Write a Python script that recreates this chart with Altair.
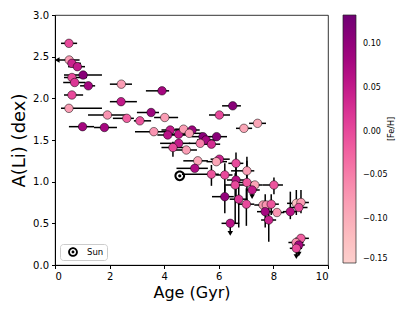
import altair as alt
import pandas as pd

# ---- data ----
age = [0.51, 0.52, 0.62, 0.82, 1.03, 0.62, 0.72, 1.22, 2.43, 0.62,
       2.42, 3.92, 0.51, 3.52, 1.92, 2.63, 3.11, 4.02, 1.01, 1.81,
       3.62, 4.22, 4.13, 4.53, 4.71, 5.02, 4.92, 5.42, 5.53, 5.92,
       5.32, 5.73, 4.53, 4.32, 4.81, 6.51, 6.02, 7.42, 6.92, 5.23,
       6.02, 5.91, 5.12, 5.73, 6.22, 6.63, 7.03, 6.63, 6.60, 7.03,
       7.32, 7.22, 8.02, 6.22, 6.73, 7.01, 7.62, 7.74, 7.92, 7.70,
       7.83, 8.13, 8.62, 8.84, 9.01, 8.93, 6.42, 9.01, 8.83, 8.93, 8.84]
ali = [2.66, 2.46, 2.42, 2.38, 2.28, 2.25, 2.19, 2.15, 2.17, 2.04,
       1.96, 2.09, 1.88, 1.83, 1.80, 1.76, 1.73, 1.77, 1.66, 1.65,
       1.60, 1.62, 1.56, 1.57, 1.63, 1.62, 1.58, 1.54, 1.50, 1.54,
       1.46, 1.45, 1.46, 1.41, 1.38, 1.91, 1.80, 1.70, 1.64, 1.25,
       1.27, 1.24, 1.16, 1.09, 1.08, 1.22, 1.13, 1.02, 0.96, 0.99,
       0.96, 0.90, 0.96, 0.82, 0.79, 0.73, 0.72, 0.72, 0.73, 0.64,
       0.54, 0.63, 0.64, 0.74, 0.75, 0.69, 0.50, 0.32, 0.27, 0.24, 0.20]
feh = [0.00, -0.08, 0.04, 0.05, 0.11, 0.00, 0.02, 0.08, -0.08, 0.00,
       0.05, 0.08, -0.08, 0.09, -0.07, -0.02, -0.01, -0.08, 0.08, 0.08,
       -0.07, 0.05, 0.06, 0.05, -0.08, 0.09, -0.08, 0.11, 0.08, 0.11,
       -0.05, 0.03, 0.05, 0.00, -0.08, 0.11, 0.00, -0.09, -0.09, -0.09,
       0.04, -0.09, 0.07, -0.01, 0.00, 0.00, -0.08, 0.06, 0.00, -0.01,
       -0.09, 0.05, -0.01, 0.10, 0.02, 0.00, -0.08, -0.07, -0.01, 0.08,
       0.04, -0.07, 0.06, -0.12, -0.08, 0.00, 0.06, -0.02, -0.06, 0.08, 0.00]
age_lo = [0.22, 0.08, 0.45, 0.48, 0.33, 0.33, 0.30, 0.92, 2.01, 0.33,
          2.01, 3.33, 0.22, 3.00, 1.21, 2.12, 2.89, 3.63, 0.51, 1.43,
          2.93, 3.90, 3.75, 4.20, 4.40, 4.75, 4.60, 5.00, 5.20, 5.68,
          4.90, 5.45, 3.85, 3.90, 4.40, 6.12, 5.64, 7.11, 6.63, 4.70,
          5.70, 5.55, 4.45, 4.65, 5.90, 6.35, 6.45, 6.30, 6.20, 6.60,
          7.00, 7.00, 7.60, 5.75, 6.40, 6.70, 7.30, 7.45, 7.65, 7.40,
          7.55, 7.90, 8.35, 8.50, 8.75, 8.60, 6.10, 8.80, 8.55, 8.70, 8.60]
age_hi = [0.81, 0.90, 0.95, 1.10, 1.72, 1.17, 1.12, 1.47, 2.82, 1.03,
          3.00, 4.18, 1.72, 3.81, 2.60, 2.89, 3.52, 4.51, 1.43, 2.27,
          4.21, 4.70, 4.90, 4.90, 5.00, 5.30, 5.40, 5.70, 5.90, 6.30,
          5.65, 6.05, 4.95, 4.85, 5.20, 6.81, 6.41, 7.73, 7.22, 5.60,
          6.40, 6.30, 5.60, 6.00, 6.50, 6.90, 7.30, 6.95, 6.95, 7.30,
          7.60, 7.50, 8.35, 6.55, 7.05, 7.30, 7.90, 8.00, 8.20, 8.00,
          8.10, 8.40, 8.85, 9.15, 9.30, 9.25, 6.75, 9.30, 9.10, 9.15, 9.05]
ali_lo = [2.66, 2.46, 2.42, 2.38, 2.28, 2.25, 2.19, 2.15, 2.17, 2.04,
          1.96, 2.09, 1.88, 1.83, 1.80, 1.76, 1.73, 1.77, 1.66, 1.65,
          1.60, 1.62, 1.56, 1.57, 1.63, 1.62, 1.58, 1.54, 1.50, 1.54,
          1.46, 1.45, 1.46, 1.30, 1.38, 1.91, 1.80, 1.70, 1.64, 1.25,
          1.27, 1.24, 1.16, 0.95, 0.88, 1.05, 0.95, 0.75, 0.50, 0.70,
          0.96, 0.82, 0.85, 0.62, 0.45, 0.47, 0.72, 0.72, 0.60, 0.45,
          0.28, 0.63, 0.55, 0.60, 0.62, 0.69, 0.38, 0.32, 0.27, 0.13, 0.10]
ali_hi = [2.66, 2.46, 2.42, 2.38, 2.28, 2.25, 2.19, 2.15, 2.17, 2.04,
          1.96, 2.09, 1.88, 1.83, 1.80, 1.76, 1.73, 1.77, 1.66, 1.65,
          1.60, 1.62, 1.56, 1.57, 1.63, 1.62, 1.58, 1.54, 1.50, 1.54,
          1.46, 1.45, 1.46, 1.48, 1.38, 1.91, 1.80, 1.70, 1.64, 1.25,
          1.27, 1.24, 1.16, 1.20, 1.22, 1.35, 1.30, 1.20, 1.10, 1.25,
          0.96, 0.90, 1.05, 0.95, 0.97, 0.92, 0.72, 0.72, 0.85, 0.85,
          0.75, 0.63, 0.88, 0.90, 0.90, 0.69, 0.50, 0.32, 0.27, 0.24, 0.20]
ali_limit = [0] * 51 + [1] + [0] * 14 + [1, 0, 0, 1, 1]
age_limit = [0, 1] + [0] * 69

sun_age = [4.57]
sun_ali = [1.07]
sun_label = ["Sun"]

feh_ticks = [-0.15, -0.10, -0.05, 0.00, 0.05, 0.10]

df = pd.DataFrame(dict(age=age, ali=ali, feh=feh, age_lo=age_lo, age_hi=age_hi,
                       ali_lo=ali_lo, ali_hi=ali_hi, ul=ali_limit, xl=age_limit))
sun = pd.DataFrame(dict(age=sun_age, ali=sun_ali, label=sun_label))

FONT = "DejaVu Sans"
SUN_PATH = ("M -1 0 A 1 1 0 1 0 1 0 A 1 1 0 1 0 -1 0 Z "
            "M -0.62 0 A 0.62 0.62 0 1 1 0.62 0 A 0.62 0.62 0 1 1 -0.62 0 Z "
            "M -0.3 0 A 0.3 0.3 0 1 0 0.3 0 A 0.3 0.3 0 1 0 -0.3 0 Z")

xs = alt.Scale(domain=[0, 10], nice=False, zero=False)
ys = alt.Scale(domain=[0, 3], nice=False, zero=False)
xax = alt.Axis(values=[0, 2, 4, 6, 8, 10], format="d", title="Age (Gyr)",
               titleFontSize=16, titleFontWeight="normal", titlePadding=3,
               labelFontSize=10, tickSize=3.5, labelPadding=3, grid=False)
yax = alt.Axis(values=[0, 0.5, 1, 1.5, 2, 2.5, 3], format=".1f", title="A(Li) (dex)",
               titleFontSize=18, titleFontWeight="normal", titlePadding=4,
               labelFontSize=10, tickSize=3.5, labelPadding=3, grid=False)

base = alt.Chart(df)

xerr = base.mark_rule(color="black", strokeWidth=1.5).encode(
    x=alt.X("age_lo:Q", scale=xs, axis=xax), x2="age_hi:Q",
    y=alt.Y("ali:Q", scale=ys, axis=yax))
yerr = base.mark_rule(color="black", strokeWidth=1.5).encode(
    x=alt.X("age:Q", scale=xs), y=alt.Y("ali_lo:Q", scale=ys), y2="ali_hi:Q")
down = base.transform_filter("datum.ul == 1").mark_point(
    shape="triangle-down", filled=True, color="black", size=30, opacity=1).encode(
    x=alt.X("age:Q", scale=xs), y=alt.Y("ali_lo:Q", scale=ys))
left = base.transform_filter("datum.xl == 1").mark_point(
    shape="triangle-left", filled=True, color="black", size=30, opacity=1).encode(
    x=alt.X("age_lo:Q", scale=xs), y=alt.Y("ali:Q", scale=ys))

pts = base.mark_point(filled=True, size=72, stroke="black", strokeWidth=0.5,
                      opacity=1).encode(
    x=alt.X("age:Q", scale=xs), y=alt.Y("ali:Q", scale=ys),
    fill=alt.Fill("feh:Q",
                  scale=alt.Scale(scheme="redpurple", domain=[-0.15, 0.133], nice=False, zero=False),
                  legend=alt.Legend(orient="right", offset=15, title=None,
                                    gradientLength=248, gradientThickness=13,
                                    values=feh_ticks, labelOverlap=False,
                                    labelExpr="replace(format(datum.value, '.2f'), '-', '\u2212')",
                                    labelFontSize=8, labelOffset=7, labelFont=FONT,
                                    gradientStrokeColor="#222222", gradientStrokeWidth=0.7)))

sun_layer = alt.Chart(sun).mark_point(filled=True, color="black", size=115, opacity=1).encode(
    x=alt.X("age:Q", scale=xs), y=alt.Y("ali:Q", scale=ys),
    shape=alt.Shape("label:N", scale=alt.Scale(domain=sun_label, range=[SUN_PATH]),
                    legend=alt.Legend(orient="bottom-left", title=None, offset=5,
                                      labelFontSize=8.5, labelFont=FONT, padding=3,
                                      symbolOffset=5, labelOffset=9,
                                      strokeColor="#cccccc", fillColor="white",
                                      cornerRadius=3, symbolSize=95,
                                      symbolFillColor="black", symbolStrokeWidth=0)))

cb_title = alt.Chart(sun).mark_text(text="[Fe/H]", angle=270, fontSize=8, font=FONT,
                                    color="black").encode(
    x=alt.value(337), y=alt.value(114))

chart = alt.layer(xerr, yerr, down, left, pts, sun_layer, cb_title).properties(
    width=273, height=250,
    padding={"left": 2, "top": 2, "right": 5, "bottom": 5},
).configure_view(stroke="black", strokeWidth=0.8).configure_axis(
    domainColor="black", tickColor="black", labelColor="black", titleColor="black",
    labelFont=FONT, titleFont=FONT
).configure_legend(labelColor="black")

chart.save("out.html", embed_options={"renderer": "svg", "actions": False})
